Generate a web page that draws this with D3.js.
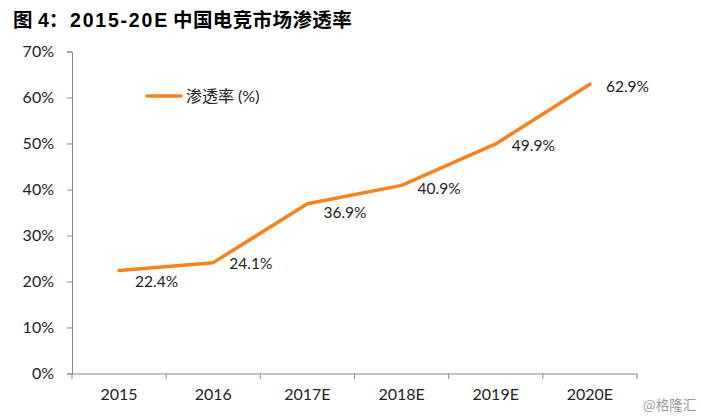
<!DOCTYPE html>
<html><head><meta charset="utf-8">
<script src="https://cdn.jsdelivr.net/npm/d3@7"></script>
<style>
body{margin:0;background:#fff;}
svg{display:block;}
</style></head>
<body><svg id="c" width="701" height="419"></svg>
<script>
const categories = ["2015","2016","2017E","2018E","2019E","2020E"];
const values = [22.4, 24.1, 36.9, 40.9, 49.9, 62.9];
const yTicks = [0,10,20,30,40,50,60,70];
const seriesName = "渗透率 (%)";
const titleParts = ["图", "4：", "2015-20E", "中国电竞市场渗透率"];
const watermark = "@格隆汇";

const svg = d3.select("#c");
const latin = "Lato, 'Open Sans', 'Noto Sans', sans-serif";
const cjk = "'Noto Sans CJK SC', sans-serif";
const orange = "#F7821E";

const x = d3.scaleBand().domain(categories).range([72, 637]);
const y = d3.scaleLinear().domain([0, 70]).range([373.5, 51.5]);

// title
const tt = svg.append("text").attr("y", 27)
  .attr("font-family", "'Liberation Sans', Arial, " + cjk)
  .attr("font-weight", "bold").attr("font-size", 19.5).attr("fill", "#000");
const titleX = [13, 38, 70, 173];
const titleLS = [0, 0, 1.8, 0.4];
titleParts.forEach((t, i) => {
  tt.append("tspan").attr("x", titleX[i]).attr("letter-spacing", titleLS[i]).text(t);
});

// y axis
const ya = svg.append("g").attr("transform", "translate(72,0)")
  .call(d3.axisLeft(y).tickValues(yTicks).tickSize(5).tickPadding(13).tickFormat(d => d + "%"));
ya.select(".domain").attr("stroke", "#888");
ya.selectAll(".tick line").attr("stroke", "#888");
ya.selectAll(".tick text").attr("font-family", latin).attr("font-size", 16).attr("fill", "#222");

// x axis
const xa = svg.append("g").attr("transform", "translate(0,373.5)")
  .call(d3.axisBottom(x).tickSize(0).tickPadding(15));
xa.select(".domain").attr("stroke", "#888");
xa.selectAll(".tick text").attr("font-family", latin).attr("font-size", 16).attr("fill", "#222");
const bounds = categories.map(c => x(c)).concat([x.range()[1]]);
svg.append("g").selectAll("line").data(bounds).join("line")
  .attr("x1", d => d).attr("x2", d => d).attr("y1", 373.5).attr("y2", 379)
  .attr("stroke", "#888");

// line
const line = d3.line().x((d, i) => x(categories[i]) + x.bandwidth() / 2).y(d => y(d));
svg.append("path").datum(values).attr("d", line)
  .attr("fill", "none").attr("stroke", orange).attr("stroke-width", 3.5)
  .attr("stroke-linejoin", "round").attr("stroke-linecap", "round");

// labels
const labelDy = [11, 1, 9, 3, 2, 2];
svg.append("g").selectAll("text").data(values).join("text")
  .attr("x", (d, i) => x(categories[i]) + x.bandwidth() / 2 + 16)
  .attr("y", (d, i) => y(d) + labelDy[i])
  .attr("dy", "0.35em")
  .attr("font-family", latin).attr("font-size", 15.5).attr("fill", "#222")
  .text(d => d.toFixed(1) + "%");

// legend
svg.append("line").attr("x1", 147).attr("x2", 181).attr("y1", 96).attr("y2", 96)
  .attr("stroke", orange).attr("stroke-width", 3.5).attr("stroke-linecap", "round");
svg.append("text").attr("x", 186).attr("y", 96).attr("dy", "0.35em")
  .attr("font-family", latin + "," + cjk).attr("font-size", 16).attr("fill", "#222")
  .text(seriesName);

// watermark
svg.append("text").attr("x", 643).attr("y", 405).attr("dy", "0.35em")
  .attr("font-family", cjk).attr("font-size", 13.5).attr("fill", "#999")
  .text(watermark);
</script></body></html>
